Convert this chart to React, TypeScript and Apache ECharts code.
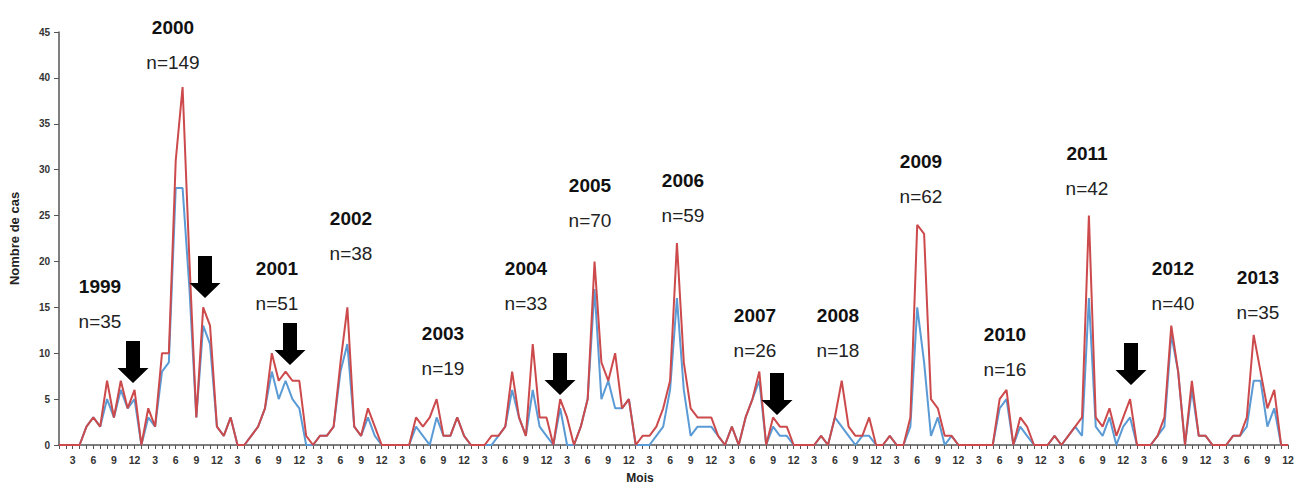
import React, { useEffect, useRef } from "react";
import * as echarts from "echarts";

// ---- Data ----
const YEARS = [1999, 2000, 2001, 2002, 2003, 2004, 2005, 2006, 2007, 2008, 2009, 2010, 2011, 2012, 2013];
const MONTHS = [1, 2, 3, 4, 5, 6, 7, 8, 9, 10, 11, 12];
const MONTH_TICK_LABELS = [3, 6, 9, 12];
const CATEGORIES = YEARS.flatMap((y) => MONTHS.map((m) => `${y}-${m < 10 ? "0" + m : m}`));

// Total cases per month (red line), one row per year
const TOTAL_CASES: number[][] = [
  [0, 0, 0, 0, 2, 3, 2, 7, 3, 7, 4, 6], // 1999
  [0, 4, 2, 10, 10, 31, 39, 20, 3, 15, 13, 2], // 2000
  [1, 3, 0, 0, 1, 2, 4, 10, 7, 8, 7, 7], // 2001
  [1, 0, 1, 1, 2, 9, 15, 2, 1, 4, 2, 0], // 2002
  [0, 0, 0, 0, 3, 2, 3, 5, 1, 1, 3, 1], // 2003
  [0, 0, 0, 1, 1, 2, 8, 3, 1, 11, 3, 3], // 2004
  [0, 5, 3, 0, 2, 5, 20, 9, 7, 10, 4, 5], // 2005
  [0, 1, 1, 2, 4, 7, 22, 9, 4, 3, 3, 3], // 2006
  [1, 0, 2, 0, 3, 5, 8, 0, 3, 2, 2, 0], // 2007
  [0, 0, 0, 1, 0, 3, 7, 2, 1, 1, 3, 0], // 2008
  [0, 1, 0, 0, 3, 24, 23, 5, 4, 1, 1, 0], // 2009
  [0, 0, 0, 0, 0, 5, 6, 0, 3, 2, 0, 0], // 2010
  [0, 1, 0, 1, 2, 3, 25, 3, 2, 4, 1, 3], // 2011
  [5, 0, 0, 0, 1, 3, 13, 8, 0, 7, 1, 1], // 2012
  [0, 0, 0, 1, 1, 3, 12, 8, 4, 6, 0, 0], // 2013
];

// Subset of cases per month (blue line)
const SUBSET_CASES: number[][] = [
  [0, 0, 0, 0, 2, 3, 2, 5, 3, 6, 4, 5], // 1999
  [0, 3, 2, 8, 9, 28, 28, 17, 3, 13, 11, 2], // 2000
  [1, 3, 0, 0, 1, 2, 4, 8, 5, 7, 5, 4], // 2001
  [0, 0, 1, 1, 2, 8, 11, 2, 1, 3, 1, 0], // 2002
  [0, 0, 0, 0, 2, 1, 0, 3, 1, 1, 3, 1], // 2003
  [0, 0, 0, 0, 1, 2, 6, 3, 1, 6, 2, 1], // 2004
  [0, 4, 0, 0, 2, 5, 17, 5, 7, 4, 4, 5], // 2005
  [0, 0, 0, 1, 2, 6, 16, 6, 1, 2, 2, 2], // 2006
  [1, 0, 2, 0, 3, 5, 7, 0, 2, 1, 1, 0], // 2007
  [0, 0, 0, 1, 0, 3, 2, 1, 0, 1, 1, 0], // 2008
  [0, 1, 0, 0, 2, 15, 9, 1, 3, 0, 1, 0], // 2009
  [0, 0, 0, 0, 0, 4, 5, 0, 2, 1, 0, 0], // 2010
  [0, 1, 0, 1, 2, 1, 16, 2, 1, 3, 0, 2], // 2011
  [3, 0, 0, 0, 1, 2, 12, 8, 0, 6, 1, 1], // 2012
  [0, 0, 0, 1, 1, 2, 7, 7, 2, 4, 0, 0], // 2013
];

const Y_TICKS = [0, 5, 10, 15, 20, 25, 30, 35, 40, 45];
const YEAR_COUNTS = [35, 149, 51, 38, 19, 33, 70, 59, 26, 18, 62, 16, 42, 40, 35];

// ---- Layout of annotations (pixels) ----
const YEAR_LABEL_POS: [number, number][] = [
  [100, 286], [173, 27], [277, 268], [351, 218], [443, 333], [526, 268], [590, 185],
  [683, 180], [755, 315], [838, 315], [921, 161], [1005, 334], [1087, 153], [1173, 268], [1258, 277],
];
const ARROW_TIPS: [number, number][] = [
  [133, 383], [205, 298], [290, 365], [560, 395], [777, 415], [1131, 385],
];

const FONT = "'Liberation Sans', Arial, sans-serif";
const RED = "#cc4a4c";
const BLUE = "#5b9bd5";

export default function App() {
  const ref = useRef<HTMLDivElement>(null);

  useEffect(() => {
    const chart = echarts.init(ref.current!, null, { renderer: "svg" });
    const total = TOTAL_CASES.flat();
    const subset = SUBSET_CASES.flat();

    const graphics: any[] = [];
    YEARS.forEach((yr, k) => {
      const [cx, cy] = YEAR_LABEL_POS[k];
      graphics.push({
        type: "text",
        x: cx,
        y: cy,
        style: {
          text: String(yr),
          fontFamily: FONT,
          fontSize: 19,
          fontWeight: "bold",
          fill: "#111",
          align: "center",
          verticalAlign: "middle",
        },
      });
      graphics.push({
        type: "text",
        x: cx,
        y: cy + 35,
        style: {
          text: `n=${YEAR_COUNTS[k]}`,
          fontFamily: FONT,
          fontSize: 19,
          fill: "#222",
          align: "center",
          verticalAlign: "middle",
        },
      });
    });
    const SHAFT_W = 14, HEAD_W = 31, HEAD_H = 15, TOTAL_H = 42;
    ARROW_TIPS.forEach(([tx, ty]) => {
      graphics.push({
        type: "polygon",
        shape: {
          points: [
            [tx - SHAFT_W / 2, ty - TOTAL_H],
            [tx + SHAFT_W / 2, ty - TOTAL_H],
            [tx + SHAFT_W / 2, ty - HEAD_H],
            [tx + HEAD_W / 2, ty - HEAD_H],
            [tx, ty],
            [tx - HEAD_W / 2, ty - HEAD_H],
            [tx - SHAFT_W / 2, ty - HEAD_H],
          ],
        },
        style: { fill: "#000" },
        z: 100,
      });
    });
    graphics.push({
      type: "text",
      x: 640,
      y: 478,
      style: {
        text: "Mois",
        fontFamily: FONT,
        fontSize: 12,
        fontWeight: "bold",
        fill: "#222",
        align: "center",
        verticalAlign: "middle",
      },
    });

    chart.setOption({
      animation: false,
      backgroundColor: "#fff",
      grid: { left: 57, right: 9, top: 32, bottom: 39, containLabel: false },
      xAxis: {
        type: "category",
        data: CATEGORIES,
        boundaryGap: false,
        axisLine: { show: true, lineStyle: { color: "#555", width: 1.5 } },
        axisTick: { show: true, interval: 0, length: 4, lineStyle: { color: "#555" } },
        axisLabel: {
          interval: (i: number, v: string) => MONTH_TICK_LABELS.includes(Number(v.slice(5))),
          formatter: (v: string) => String(Number(v.slice(5))),
          fontFamily: FONT,
          fontSize: 10.5,
          fontWeight: "bold",
          color: "#333",
          margin: 9,
        },
        splitLine: { show: false },
      },
      yAxis: {
        type: "value",
        min: Y_TICKS[0],
        max: Y_TICKS[Y_TICKS.length - 1],
        interval: 5,
        name: "Nombre de cas",
        nameLocation: "middle",
        nameRotate: 90,
        nameGap: 38,
        nameTextStyle: { fontFamily: FONT, fontSize: 13, fontWeight: "bold", color: "#222" },
        axisLine: { show: true, lineStyle: { color: "#555", width: 1.5 } },
        axisTick: { show: true, length: 5, lineStyle: { color: "#555" } },
        axisLabel: { fontFamily: FONT, fontSize: 10, fontWeight: "bold", color: "#333", margin: 9 },
        splitLine: { show: false },
      },
      series: [
        {
          type: "line",
          name: "subset",
          data: subset,
          symbol: "none",
          lineStyle: { color: BLUE, width: 2 },
          itemStyle: { color: BLUE },
          z: 2,
        },
        {
          type: "line",
          name: "total",
          data: total,
          symbol: "none",
          lineStyle: { color: RED, width: 2 },
          itemStyle: { color: RED },
          z: 3,
        },
      ],
      graphic: graphics,
    });

    return () => chart.dispose();
  }, []);

  return (
    <div
      ref={ref}
      style={{ position: "absolute", left: 0, top: 0, width: 1297, height: 484, background: "#fff" }}
    />
  );
}
